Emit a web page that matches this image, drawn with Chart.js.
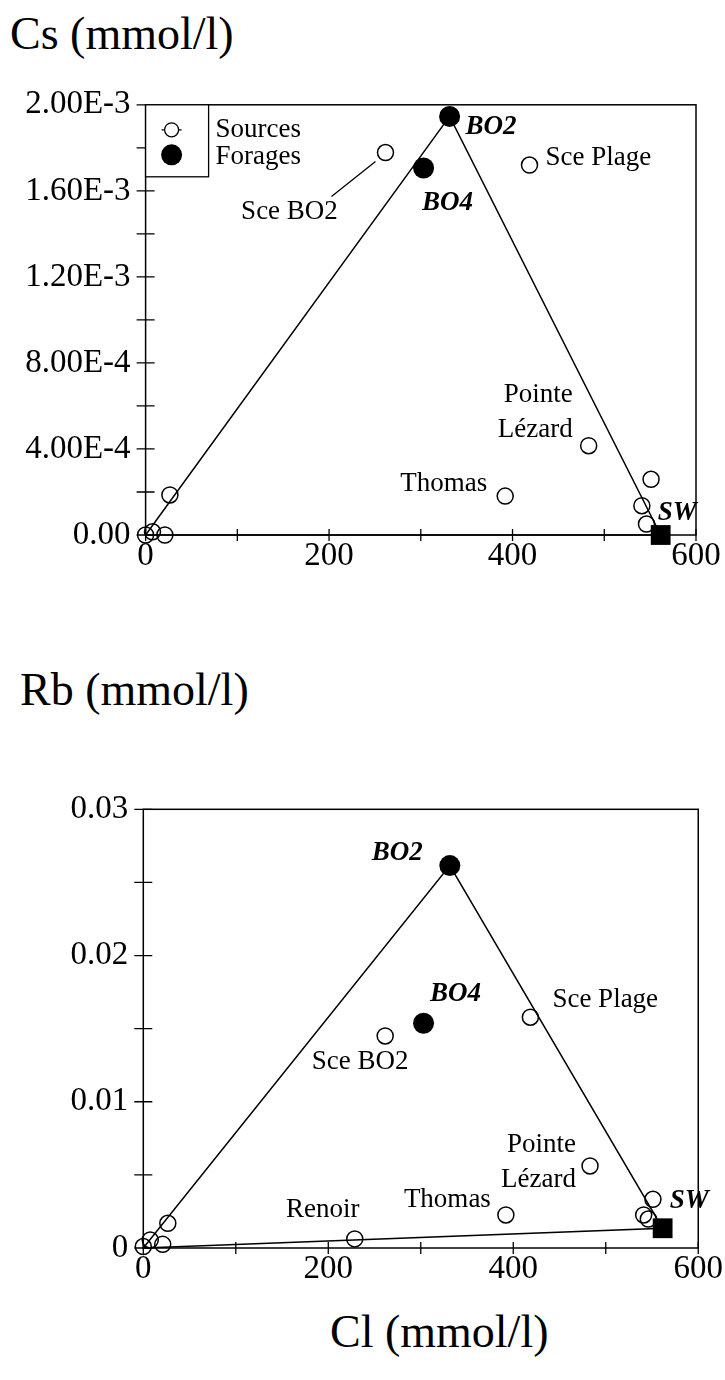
<!DOCTYPE html>
<html>
<head>
<meta charset="utf-8">
<script src="https://cdn.jsdelivr.net/npm/chart.js@4/dist/chart.umd.min.js"></script>
<style>
  body { margin: 0; background: #fff; width: 725px; height: 1380px; position: relative; overflow: hidden; font-family: "Liberation Serif", serif; }
  .title { position: absolute; font-size: 46px; color: #000; white-space: nowrap; line-height: 1; }
  .wrap { position: absolute; left: 0; width: 725px; }
  canvas { display: block; }
</style>
</head>
<body>
<div class="title" style="left:10px; top:11px;">Cs (mmol/l)</div>
<div class="title" style="left:20px; top:667px;">Rb (mmol/l)</div>
<div class="title" style="left:330px; top:1309px;">Cl (mmol/l)</div>
<div class="wrap" style="top:70px; height:530px;"><canvas id="csChart" width="725" height="530"></canvas></div>
<div class="wrap" style="top:760px; height:560px;"><canvas id="rbChart" width="725" height="560"></canvas></div>

<script>
// Springs (sources)
const sourceNames = ['', '', '', '', 'Renoir', 'Sce BO2', 'Thomas', 'Sce Plage', 'Pointe Lézard', '', '', ''];
const sourceCl = [0, 7.5, 21, 26.5, 228.6, 261.5, 392, 418.5, 483, 541, 546, 551];
const sourceCs = [0, 0.000015, 0, 0.000186, null, 0.001778, 0.000181, 0.00172, 0.000415, 0.000136, 0.000051, 0.000259];
const sourceRb = [0.0001, 0.00055, 0.00025, 0.00169, 0.00062, 0.0145, 0.00226, 0.01578, 0.00561, 0.00226, 0.00198, 0.00333];

// Boreholes (forages)
const wellNames = ['BO2', 'BO4'];
const wellCl = [331.4, 303];
const wellCs = [0.001946, 0.001706];
const wellRb = [0.02615, 0.01537];

// Seawater
const seaNames = ['SW'];
const seaCl = [561.5];
const seaCs = [0];
const seaRb = [0.00135];

// Axis ticks
const clTicks = [0, 200, 400, 600];
const clTickLabels = ['0', '200', '400', '600'];
const clMinorTicks = [100, 300, 500];
const csTicks = [0, 0.0004, 0.0008, 0.0012, 0.0016, 0.002];
const csTickLabels = ['0.00', '4.00E-4', '8.00E-4', '1.20E-3', '1.60E-3', '2.00E-3'];
const csMinorTicks = [0.0002, 0.0006, 0.001, 0.0014, 0.0018];
const rbTicks = [0, 0.01, 0.02, 0.03];
const rbTickLabels = ['0', '0.01', '0.02', '0.03'];
const rbMinorTicks = [0.005, 0.015, 0.025];

const legendLabels = ['Sources', 'Forages'];

const SERIF = '"Liberation Serif", "Times New Roman", serif';

function pts(xs, ys) {
  const out = [];
  xs.forEach((x, i) => { if (ys[i] !== null && ys[i] !== undefined) out.push({ x: x, y: ys[i], i: i }); });
  return out;
}

// mixing triangle: rain water (origin) -> BO2 -> seawater -> origin
function mixingLine(wellYs, seaYs) {
  return [
    { x: sourceCl[0], y: 0 },
    { x: wellCl[0], y: wellYs[0] },
    { x: seaCl[0], y: seaYs[0] },
    { x: sourceCl[0], y: 0 }
  ];
}

function tickList(major, minor) {
  return major.concat(minor).sort((a, b) => a - b).map(v => ({ value: v }));
}
function labelFor(major, labels) {
  return function (value) {
    for (let k = 0; k < major.length; k++) {
      if (Math.abs(major[k] - value) < 1e-9) return labels[k];
    }
    return '';
  };
}

// frame, crossing tick marks and optional legend box
const framePlugin = {
  id: 'frame',
  beforeDatasetsDraw(chart, args, opts) {
    const ctx = chart.ctx;
    const a = chart.chartArea;
    ctx.save();
    ctx.strokeStyle = '#000';
    ctx.lineWidth = 1.5;
    ctx.strokeRect(a.left, a.top, a.right - a.left, a.bottom - a.top);
    const xs = chart.scales.x, ys = chart.scales.y;
    ctx.lineWidth = 1.3;
    ctx.beginPath();
    xs.ticks.forEach(t => {
      const px = xs.getPixelForValue(t.value);
      ctx.moveTo(px, a.bottom - 6);
      ctx.lineTo(px, a.bottom + 6);
    });
    ys.ticks.forEach(t => {
      const py = ys.getPixelForValue(t.value);
      ctx.moveTo(a.left - 9, py);
      ctx.lineTo(a.left + 9, py);
    });
    ctx.stroke();
    ctx.restore();
  },
  afterDraw(chart, args, opts) {
    if (!opts.legend) return;
    const ctx = chart.ctx;
    const a = chart.chartArea;
    ctx.save();
    ctx.strokeStyle = '#000';
    ctx.lineWidth = 1.3;
    ctx.fillStyle = '#fff';
    ctx.fillRect(a.left, a.top, 63, 72);
    ctx.strokeRect(a.left, a.top, 63, 72);
    const cx = a.left + 26;
    // open symbol
    ctx.beginPath();
    ctx.moveTo(cx - 10, a.top + 25); ctx.lineTo(cx - 7, a.top + 25);
    ctx.moveTo(cx + 7, a.top + 25); ctx.lineTo(cx + 10, a.top + 25);
    ctx.stroke();
    ctx.beginPath();
    ctx.arc(cx, a.top + 25, 7, 0, Math.PI * 2);
    ctx.stroke();
    // filled symbol
    ctx.fillStyle = '#000';
    ctx.beginPath();
    ctx.arc(cx, a.top + 50, 10.5, 0, Math.PI * 2);
    ctx.fill();
    ctx.font = '27px ' + SERIF;
    ctx.textBaseline = 'middle';
    ctx.textAlign = 'left';
    ctx.fillText(legendLabels[0], a.left + 70, a.top + 25);
    ctx.fillText(legendLabels[1], a.left + 70, a.top + 52);
    ctx.restore();
  }
};

// sample labels placed next to their points
const labelPlugin = {
  id: 'sampleLabels',
  afterDatasetsDraw(chart, args, opts) {
    const ctx = chart.ctx;
    const xs = chart.scales.x, ys = chart.scales.y;
    ctx.save();
    ctx.fillStyle = '#000';
    ctx.strokeStyle = '#000';
    ctx.textBaseline = 'middle';
    (opts.items || []).forEach(it => {
      const px = xs.getPixelForValue(it.x), py = ys.getPixelForValue(it.y);
      const p = it.place;
      ctx.font = (it.bold ? 'italic bold ' : '') + '27px ' + SERIF;
      ctx.textAlign = p.align || 'left';
      const lines = p.lines || [it.name];
      lines.forEach((ln, k) => ctx.fillText(ln, px + p.dx, py + p.dy + k * 35));
      if (p.leader) {
        ctx.lineWidth = 1.3;
        ctx.beginPath();
        ctx.moveTo(px + p.leader[0], py + p.leader[1]);
        ctx.lineTo(px + p.leader[2], py + p.leader[3]);
        ctx.stroke();
      }
    });
    ctx.restore();
  }
};

function labelItems(ys, wellYs, seaYs, place) {
  const items = [];
  sourceNames.forEach((n, i) => {
    if (n && place[n] && ys[i] !== null) items.push({ name: n, x: sourceCl[i], y: ys[i], place: place[n] });
  });
  wellNames.forEach((n, i) => { if (place[n]) items.push({ name: n, x: wellCl[i], y: wellYs[i], place: place[n], bold: true }); });
  seaNames.forEach((n, i) => { if (place[n]) items.push({ name: n, x: seaCl[i], y: seaYs[i], place: place[n], bold: true }); });
  return items;
}

const csPlace = {
  'Sce BO2': { dx: -96, dy: 59, align: 'center', leader: [-54, 44, -10, 9] },
  'Sce Plage': { dx: 16, dy: -7, align: 'left' },
  'Thomas': { dx: -18, dy: -12, align: 'right' },
  'Pointe Lézard': { dx: -16, dy: -51, align: 'right', lines: ['Pointe', 'Lézard'] },
  'BO2': { dx: 16, dy: 11, align: 'left' },
  'BO4': { dx: 24, dy: 35, align: 'center' },
  'SW': { dx: -3, dy: -22, align: 'left' }
};
const rbPlace = {
  'Sce BO2': { dx: -25, dy: 26, align: 'center' },
  'Sce Plage': { dx: 22, dy: -17, align: 'left' },
  'Thomas': { dx: -15, dy: -15, align: 'right' },
  'Pointe Lézard': { dx: -14, dy: -21, align: 'right', lines: ['Pointe', 'Lézard'] },
  'Renoir': { dx: -32, dy: -29, align: 'center' },
  'BO2': { dx: -27, dy: -13, align: 'right' },
  'BO4': { dx: 32, dy: -29, align: 'center' },
  'SW': { dx: 7, dy: -27, align: 'left' }
};

function makeChart(id, ys, wellYs, seaYs, yTicks, yLabels, yMinor, yMax, geom, place, legend) {
  return new Chart(document.getElementById(id), {
    type: 'scatter',
    data: {
      datasets: [
        { label: 'mixing', type: 'line', data: mixingLine(wellYs, seaYs), borderColor: '#000', borderWidth: 1.5,
          pointRadius: 0, fill: false, tension: 0, order: 10, clip: false },
        { label: 'Sources', data: pts(sourceCl, ys), pointStyle: 'circle', pointRadius: 8, borderWidth: 1.5,
          borderColor: '#000', backgroundColor: 'rgba(0,0,0,0)', order: 1, clip: false },
        { label: 'Forages', data: pts(wellCl, wellYs), pointStyle: 'circle', pointRadius: 10.5, borderWidth: 0,
          backgroundColor: '#000', borderColor: '#000', order: 0, clip: false },
        { label: 'SW', data: pts(seaCl, seaYs), pointStyle: 'rect', pointRadius: 14, borderWidth: 0,
          backgroundColor: '#000', borderColor: '#000', order: 0, clip: false }
      ]
    },
    options: {
      responsive: false,
      animation: false,
      events: [],
      layout: { padding: { top: geom.top, right: geom.right, left: 0, bottom: 0 } },
      plugins: {
        legend: { display: false },
        tooltip: { enabled: false },
        frame: { legend: legend },
        sampleLabels: { items: labelItems(ys, wellYs, seaYs, place) }
      },
      scales: {
        x: {
          type: 'linear', min: 0, max: 600,
          border: { display: false },
          grid: { display: false, drawTicks: false },
          afterBuildTicks: s => { s.ticks = tickList(clTicks, clMinorTicks); },
          afterFit: s => { s.height = geom.xh; },
          ticks: { callback: labelFor(clTicks, clTickLabels), autoSkip: false, maxRotation: 0, padding: geom.xpad,
                   color: '#000', font: { family: SERIF, size: 33 } }
        },
        y: {
          type: 'linear', min: 0, max: yMax,
          border: { display: false },
          grid: { display: false, drawTicks: false },
          afterBuildTicks: s => { s.ticks = tickList(yTicks, yMinor); },
          afterFit: s => { s.width = geom.yw; },
          ticks: { callback: labelFor(yTicks, yLabels), autoSkip: false, padding: 15,
                   color: '#000', font: { family: SERIF, size: 33 } }
        }
      }
    },
    plugins: [framePlugin, labelPlugin]
  });
}

makeChart('csChart', sourceCs, wellCs, seaCs, csTicks, csTickLabels, csMinorTicks, 0.002,
  { top: 25, right: 29, xh: 65, yw: 145.6, xpad: 2 }, csPlace, true);
makeChart('rbChart', sourceRb, wellRb, seaRb, rbTicks, rbTickLabels, rbMinorTicks, 0.03,
  { top: 49.3, right: 26, xh: 72, yw: 143.3, xpad: 2 }, rbPlace, false);
</script>
</body>
</html>
